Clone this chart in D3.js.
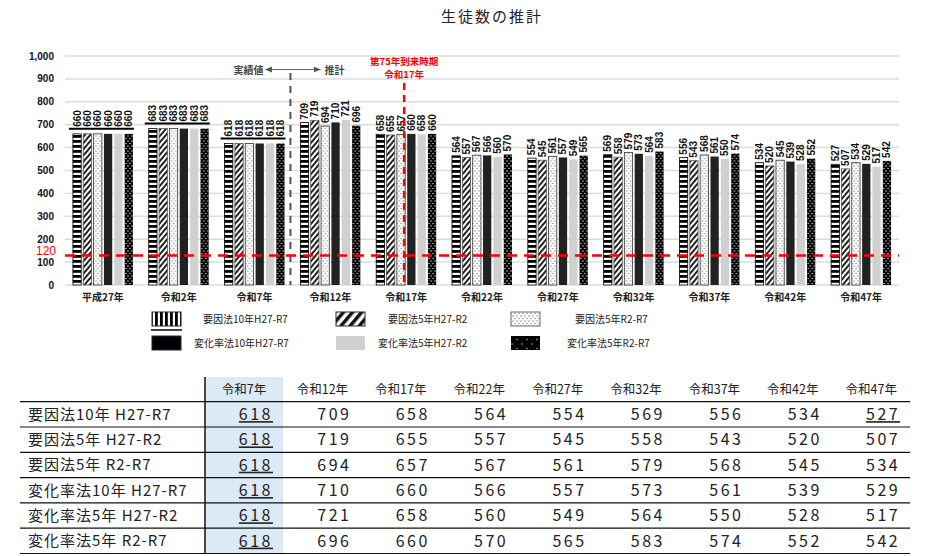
<!DOCTYPE html>
<html><head><meta charset="utf-8">
<script src="https://cdn.jsdelivr.net/npm/d3@7"></script>
<style>
html,body{margin:0;padding:0;background:#fff;}
svg{display:block;font-family:"Noto Sans CJK JP","Noto Sans",sans-serif;}
</style></head>
<body><svg id="c" width="926" height="556"></svg>
<script>
const categories = ['平成27年','令和2年','令和7年','令和12年','令和17年','令和22年','令和27年','令和32年','令和37年','令和42年','令和47年'];
const seriesNames = ['要因法10年H27-R7','要因法5年H27-R2','要因法5年R2-R7','変化率法10年H27-R7','変化率法5年H27-R2','変化率法5年R2-R7'];
const tableRowNames = ['要因法10年 H27-R7','要因法5年 H27-R2','要因法5年 R2-R7','変化率法10年 H27-R7','変化率法5年 H27-R2','変化率法5年 R2-R7'];
const s1 = [660,683,618,709,658,564,554,569,556,534,527];
const s2 = [660,683,618,719,655,557,545,558,543,520,507];
const s3 = [660,683,618,694,657,567,561,579,568,545,534];
const s4 = [660,683,618,710,660,566,557,573,561,539,529];
const s5 = [660,683,618,721,658,560,549,564,550,528,517];
const s6 = [660,683,618,696,660,570,565,583,574,552,542];
const seriesValues = [s1,s2,s3,s4,s5,s6];
const yTicks = [0,100,200,300,400,500,600,700,800,900,1000];
const actualCount = 3;            // 平成27年〜令和7年 are actual values
const thresholdValue = 120;
const markerCategory = '令和17年';
const tableStart = 2;             // table shows 令和7年〜
const title = '生徒数の推計';

const svg = d3.select('#c');
const defs = svg.append('defs');
function pat(id,w,h,draw,transform){
  const p = defs.append('pattern').attr('id',id).attr('patternUnits','userSpaceOnUse').attr('width',w).attr('height',h);
  if(transform) p.attr('patternTransform',transform);
  draw(p);
}
pat('hstripe',10,5,p=>{p.append('rect').attr('width',10).attr('height',5).attr('fill','#fff');p.append('rect').attr('width',10).attr('height',2.8).attr('fill','#000');});
pat('vstripe',5,10,p=>{p.append('rect').attr('width',5).attr('height',10).attr('fill','#fff');p.append('rect').attr('width',2.8).attr('height',10).attr('fill','#000');});
pat('diag',4,4,p=>{p.append('rect').attr('width',4).attr('height',4).attr('fill','#fff');p.append('rect').attr('width',2).attr('height',4).attr('fill','#222');},'rotate(40)');
pat('diagL',7,7,p=>{p.append('rect').attr('width',7).attr('height',7).attr('fill','#fff');p.append('rect').attr('width',3.5).attr('height',7).attr('fill','#111');},'rotate(40)');
pat('dots',4,5,p=>{p.append('rect').attr('width',4).attr('height',5).attr('fill','#fff');p.append('circle').attr('cx',1).attr('cy',1).attr('r',0.7).attr('fill','#777');p.append('circle').attr('cx',3).attr('cy',3.5).attr('r',0.7).attr('fill','#777');});
pat('bdots',4,5,p=>{p.append('rect').attr('width',4).attr('height',5).attr('fill','#000');p.append('circle').attr('cx',1).attr('cy',1).attr('r',0.75).attr('fill','#ddd');p.append('circle').attr('cx',3).attr('cy',3.5).attr('r',0.75).attr('fill','#ddd');});
pat('bdotsL',10,9,p=>{p.append('rect').attr('width',10).attr('height',9).attr('fill','#000');p.append('circle').attr('cx',2).attr('cy',2).attr('r',0.7).attr('fill','#ccc');p.append('circle').attr('cx',7).attr('cy',6.5).attr('r',0.7).attr('fill','#ccc');});

const fills = ['url(#hstripe)','url(#diag)','url(#dots)','#222','#d0d0d0','url(#bdots)'];
const strokes = ['#000','#555','#333',null,null,null];
const legendFills = ['url(#vstripe)','url(#diagL)','url(#dots)','#000','#d0d0d0','url(#bdotsL)'];
const legendStrokes = ['#1a2a3a','#1a2a3a','#5a7080','#1a2a3a',null,null];

const x0 = d3.scaleBand().domain(categories).range([65,899]);
const x1 = d3.scaleBand().domain(d3.range(6)).range([-30,30]).paddingInner(0.2);
const y = d3.scaleLinear().domain([0,1000]).range([285,56]);

svg.append('text').attr('x',492).attr('y',22).attr('text-anchor','middle').attr('font-size',15).attr('letter-spacing',2).attr('fill','#222').text(title);

svg.append('g').selectAll('line').data(yTicks).join('line')
  .attr('x1',65).attr('x2',899).attr('y1',d=>y(d)).attr('y2',d=>y(d))
  .attr('stroke','#dcdcdc').attr('stroke-width',1.5);
svg.append('g').selectAll('text').data(yTicks).join('text')
  .attr('x',54).attr('y',d=>y(d)).attr('dy','0.35em').attr('text-anchor','end')
  .attr('font-family','Liberation Sans,Arial,sans-serif').attr('font-weight','bold').attr('font-size',10).attr('fill','#111')
  .text(d=>d3.format(',')(d));

const groups = svg.append('g').selectAll('g').data(categories).join('g')
  .attr('transform',d=>`translate(${x0(d)+x0.bandwidth()/2},0)`);
groups.each(function(cat,ci){
  const g = d3.select(this);
  const vals = seriesValues.map(s=>s[ci]);
  g.selectAll('rect').data(vals).join('rect')
    .attr('x',(d,i)=>x1(i)).attr('width',x1.bandwidth())
    .attr('y',d=>y(d)).attr('height',d=>y(0)-y(d))
    .attr('fill',(d,i)=>fills[i])
    .attr('stroke',(d,i)=>strokes[i]||'none').attr('stroke-width',0.8);
  const isActual = ci < actualCount;
  const maxV = d3.max(vals);
  if(isActual){
    g.append('line').attr('x1',-34).attr('x2',31).attr('y1',y(maxV)-5).attr('y2',y(maxV)-5).attr('stroke','#000').attr('stroke-width',2);
  }
  g.selectAll('text.v').data(vals).join('text').attr('class','v')
    .attr('transform',(d,i)=>`translate(${x1(i)+x1.bandwidth()/2},${isActual? y(maxV)-7 : y(d)-3}) rotate(-90)`)
    .attr('dy','0.35em')
    .attr('font-family','Liberation Sans,Arial,sans-serif').attr('font-weight','bold').attr('font-size',10).attr('fill','#111')
    .text(d=>d);
});
svg.append('g').selectAll('text').data(categories).join('text')
  .attr('x',d=>x0(d)+x0.bandwidth()/2).attr('y',301).attr('text-anchor','middle')
  .attr('font-weight','bold').attr('font-size',10).attr('fill','#222').text(d=>d);

const sepX = (x0(categories[actualCount-1])+x0.bandwidth() + x0(categories[actualCount]))/2 - 2;
svg.append('line').attr('x1',sepX).attr('x2',sepX).attr('y1',73).attr('y2',285)
  .attr('stroke','#555').attr('stroke-width',2).attr('stroke-dasharray','7,6');
const mk = defs.append('marker').attr('id','arr').attr('viewBox','0 0 10 10').attr('refX',9).attr('refY',5)
  .attr('markerWidth',6).attr('markerHeight',6).attr('orient','auto-start-reverse');
mk.append('path').attr('d','M0,1L10,5L0,9z').attr('fill','#555');
svg.append('line').attr('x1',sepX-25).attr('x2',sepX+30).attr('y1',69.5).attr('y2',69.5)
  .attr('stroke','#666').attr('stroke-width',1.2).attr('marker-start','url(#arr)').attr('marker-end','url(#arr)');
svg.append('text').attr('x',sepX-27).attr('y',73.5).attr('text-anchor','end').attr('font-weight','bold').attr('font-size',10).attr('fill','#444').text('実績値');
svg.append('text').attr('x',sepX+34).attr('y',73.5).attr('font-weight','bold').attr('font-size',10).attr('fill','#444').text('推計');

const mX = x0(markerCategory)+x0.bandwidth()/2 - 2;
svg.append('line').attr('x1',mX).attr('x2',mX).attr('y1',83).attr('y2',285)
  .attr('stroke','#f00').attr('stroke-width',2.5).attr('stroke-dasharray','7,5');
svg.append('text').attr('x',mX).attr('y',65).attr('text-anchor','middle').attr('font-weight','bold').attr('font-size',9.5).attr('fill','#f00').text('第75年到来時期');
svg.append('text').attr('x',mX).attr('y',77.5).attr('text-anchor','middle').attr('font-weight','bold').attr('font-size',9.5).attr('fill','#f00').text('令和17年');

svg.append('line').attr('x1',65).attr('x2',899).attr('y1',y(thresholdValue)-2).attr('y2',y(thresholdValue)-2)
  .attr('stroke','#f00').attr('stroke-width',2.5).attr('stroke-dasharray','10,7');
svg.append('text').attr('x',56).attr('y',y(thresholdValue)-7).attr('dy','0.35em').attr('text-anchor','end')
  .attr('font-family','Liberation Sans,Arial,sans-serif').attr('font-size',12).attr('fill','#f00').text(thresholdValue);

const legPos = [[152,312,203],[336,312,388],[511,312,575],[152,336,194],[336,336,378],[511,336,567]];
seriesNames.forEach((n,i)=>{
  const [lx,ly,tx] = legPos[i];
  svg.append('rect').attr('x',lx).attr('y',ly).attr('width',29).attr('height',14)
    .attr('fill',legendFills[i]).attr('stroke',legendStrokes[i]||'none').attr('stroke-width',1);
  if(i===0) svg.append('line').attr('x1',lx-1).attr('x2',lx+30).attr('y1',ly+18).attr('y2',ly+18).attr('stroke','#000').attr('stroke-width',1.5);
  svg.append('text').attr('x',tx).attr('y',ly+11).attr('font-size',10).attr('fill','#222').text(n);
});

const tCats = categories.slice(tableStart);
const colStep = 78.4;
const colCenter = i => 244 + i*colStep;
const tTop = 377, hdrBottom = 401.7, rowH = 25.3, tLeft = 20, tRight = 910;
svg.append('rect').attr('x',205).attr('y',tTop).attr('width',78).attr('height',hdrBottom+rowH*6-tTop).attr('fill','#dce9f6');
tCats.forEach((c,i)=>{
  svg.append('text').attr('x',colCenter(i)).attr('y',394).attr('text-anchor','middle').attr('font-size',12.5).attr('fill','#222').text(c);
});
for(let r=0;r<=6;r++){
  svg.append('line').attr('x1',tLeft).attr('x2',tRight).attr('y1',hdrBottom+r*rowH).attr('y2',hdrBottom+r*rowH)
    .attr('stroke','#111').attr('stroke-width',1.2);
}
svg.append('line').attr('x1',205).attr('x2',205).attr('y1',tTop).attr('y2',hdrBottom+rowH*6).attr('stroke','#111').attr('stroke-width',1.5);
tableRowNames.forEach((n,r)=>{
  const cy = hdrBottom + r*rowH + rowH/2;
  svg.append('text').attr('x',28).attr('y',cy).attr('dy','0.36em').attr('font-size',15).attr('letter-spacing',1).attr('fill','#222').text(n);
  tCats.forEach((c,i)=>{
    const v = seriesValues[r][tableStart+i];
    const underline = (i===0) || (r===0 && i===tCats.length-1);
    svg.append('text').attr('x',colCenter(i)+29).attr('y',cy).attr('dy','0.36em').attr('text-anchor','end')
      .attr('font-size',16).attr('letter-spacing',2.5).attr('fill','#222')
      .attr('text-decoration',underline?'underline':null).text(v);
  });
});
</script></body></html>
